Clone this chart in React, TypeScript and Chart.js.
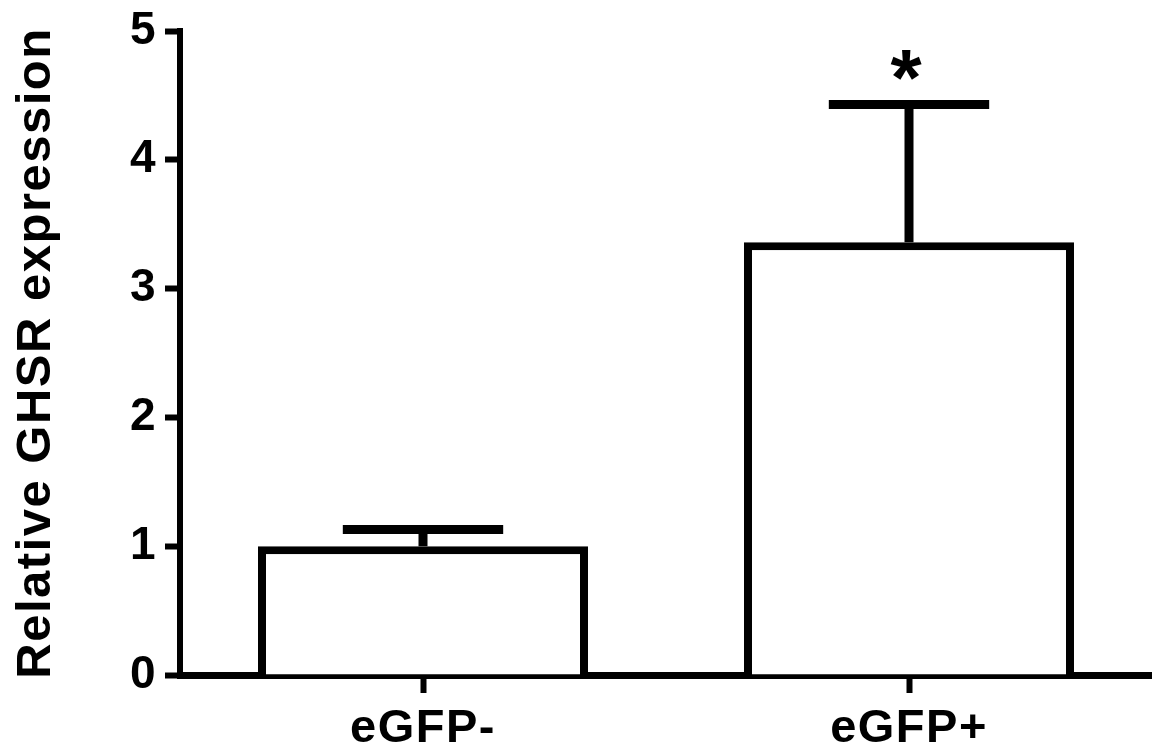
import React, { useEffect, useRef } from 'react';
import { Chart, registerables } from 'chart.js';

Chart.register(...registerables);

const categories = ['eGFP-', 'eGFP+'];
const means = [1.0, 3.36];
const sem = [0.13, 1.07];
const significance = ['', '*'];
const yMin = 0;
const yMax = 5;
const yStep = 1;
const yTitle = 'Relative GHSR expression';

const FONT = '"Liberation Sans", Arial, Helvetica, sans-serif';

const spacingPlugin = {
  id: 'spacing',
  beforeDraw(chart: any) {
    chart.ctx.letterSpacing = '1.5px';
  },
  afterDraw(chart: any) {
    chart.ctx.letterSpacing = '0px';
  },
};

const errorBarPlugin = {
  id: 'errorBars',
  afterDatasetsDraw(chart: any) {
    const { ctx } = chart;
    const meta = chart.getDatasetMeta(0);
    const y = chart.scales.y;
    ctx.save();
    ctx.strokeStyle = '#000';
    ctx.fillStyle = '#000';
    ctx.lineWidth = 9;
    ctx.lineCap = 'butt';
    meta.data.forEach((bar: any, i: number) => {
      const x = bar.x;
      const top = y.getPixelForValue(means[i] + sem[i]);
      const base = y.getPixelForValue(means[i]);
      const half = bar.width * 0.243;
      ctx.beginPath();
      ctx.moveTo(x, base);
      ctx.lineTo(x, top);
      ctx.moveTo(x - half, top);
      ctx.lineTo(x + half, top);
      ctx.stroke();
      if (significance[i]) {
        ctx.letterSpacing = '0px';
        ctx.font = `bold 80px ${FONT}`;
        ctx.textAlign = 'center';
        ctx.textBaseline = 'alphabetic';
        ctx.fillText(significance[i], x - 3, top + 1);
      }
    });
    ctx.restore();
  },
};

export default function App() {
  const ref = useRef<HTMLCanvasElement | null>(null);
  useEffect(() => {
    if (!ref.current) return;
    const tickFont = { size: 46, weight: 'bold' as const, family: FONT, lineHeight: 1.0 };
    const chart = new Chart(ref.current, {
      type: 'bar',
      data: {
        labels: categories,
        datasets: [
          {
            data: means,
            backgroundColor: '#ffffff',
            borderColor: '#000000',
            borderWidth: 8,
            categoryPercentage: 1,
            barPercentage: 0.679,
          },
        ],
      },
      options: {
        responsive: false,
        animation: false,
        devicePixelRatio: 1,
        layout: { padding: { top: 0, left: 0, right: 0, bottom: 0 } },
        plugins: { legend: { display: false }, tooltip: { enabled: false } },
        scales: {
          x: {
            ticks: { color: '#000', font: { size: 47, weight: 'bold', family: FONT }, padding: 8 },
            grid: {
              offset: false,
              drawOnChartArea: false,
              drawTicks: true,
              tickLength: 18,
              tickWidth: 6,
              tickColor: '#000',
            },
            border: { display: true, color: '#000', width: 7 },
            afterFit: (s: any) => {
              s.height = 77;
            },
          },
          y: {
            min: yMin,
            max: yMax,
            ticks: { stepSize: yStep, color: '#000', font: tickFont, padding: 8 },
            grid: {
              drawOnChartArea: false,
              drawTicks: true,
              tickLength: 15,
              tickWidth: 6,
              tickColor: '#000',
            },
            border: { display: true, color: '#000', width: 6 },
            title: {
              display: true,
              text: yTitle,
              color: '#000',
              font: { size: 49, weight: 'bold', family: FONT },
              padding: { top: 7, bottom: 0 },
            },
            afterFit: (s: any) => {
              s.width = 180;
            },
          },
        },
      },
      plugins: [spacingPlugin, errorBarPlugin],
    });
    return () => chart.destroy();
  }, []);
  return (
    <div style={{ position: 'absolute', left: 0, top: 0, width: 1152, height: 752, background: '#fff' }}>
      <canvas ref={ref} width={1152} height={752} style={{ display: 'block' }} />
    </div>
  );
}
